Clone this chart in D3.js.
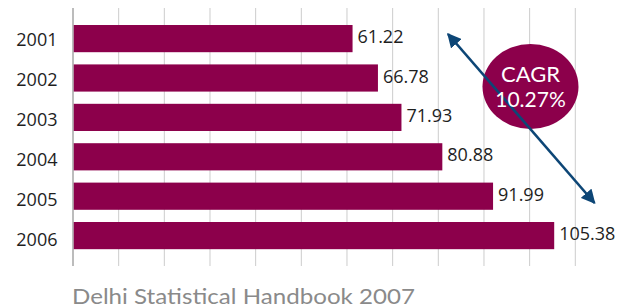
<!DOCTYPE html>
<html>
<head>
<meta charset="utf-8">
<script src="https://cdn.jsdelivr.net/npm/d3@7"></script>
<style>
  html, body { margin: 0; padding: 0; background: #ffffff; }
  svg { display: block; }
</style>
</head>
<body>
<svg id="chart" width="619" height="308"></svg>
<script>
// ---- data ----
const years = ["2001", "2002", "2003", "2004", "2005", "2006"];
const values = [61.22, 66.78, 71.93, 80.88, 91.99, 105.38];
const valueLabels = ["61.22", "66.78", "71.93", "80.88", "91.99", "105.38"];
const gridTicks = [0, 10, 20, 30, 40, 50, 60, 70, 80, 90, 100, 110];
const cagrLines = ["CAGR", "10.27%"];
const sourceText = "Delhi Statistical Handbook 2007";

// ---- layout ----
const svg = d3.select("#chart");
const barColor = "#8c004b";
const arrowColor = "#0d4676";

const x = d3.scaleLinear().domain([0, 110]).range([73, 575.3]);
const y = d3.scaleBand().domain(years).range([12.8, 261.4]).padding(0.31);

// gridlines
svg.append("g").selectAll("line")
  .data(gridTicks.filter(d => d > 0))
  .join("line")
  .attr("x1", d => x(d)).attr("x2", d => x(d))
  .attr("y1", 8).attr("y2", 266)
  .attr("stroke", "#cccccc").attr("stroke-width", 1);

// axis line
svg.append("line")
  .attr("x1", x(0)).attr("x2", x(0))
  .attr("y1", 8).attr("y2", 266)
  .attr("stroke", "#a6a6a6").attr("stroke-width", 1.5);

const data = years.map((yr, i) => ({ yr, v: values[i], lab: valueLabels[i] }));

// bars
svg.append("g").selectAll("rect")
  .data(data)
  .join("rect")
  .attr("x", x(0) + 0.75)
  .attr("y", d => y(d.yr))
  .attr("width", d => x(d.v) - x(0) - 0.75)
  .attr("height", y.bandwidth())
  .attr("fill", barColor);

// category labels
svg.append("g").selectAll("text")
  .data(data)
  .join("text")
  .attr("x", 57.5)
  .attr("y", (d, i) => y(d.yr) + y.bandwidth() / 2 + 7.5 + i * 0.6)
  .attr("text-anchor", "end")
  .attr("font-family", "'Open Sans', sans-serif")
  .attr("font-size", 18)
  .attr("fill", "#1e1e1e")
  .text(d => d.yr);

// value labels
svg.append("g").selectAll("text")
  .data(data)
  .join("text")
  .attr("x", d => x(d.v) + 5)
  .attr("y", d => y(d.yr) + y.bandwidth() / 2 + 4.5)
  .attr("font-family", "'Open Sans', sans-serif")
  .attr("font-size", 18)
  .attr("fill", "#1e1e1e")
  .text(d => d.lab);

// CAGR ellipse
svg.append("ellipse")
  .attr("cx", 530.5).attr("cy", 86.5)
  .attr("rx", 48).attr("ry", 42.5)
  .attr("fill", barColor);

// double-headed arrow
const defs = svg.append("defs");
defs.append("marker")
  .attr("id", "ah")
  .attr("viewBox", "0 0 10 10")
  .attr("refX", 9).attr("refY", 5)
  .attr("markerWidth", 5.5).attr("markerHeight", 5.5)
  .attr("markerUnits", "strokeWidth")
  .attr("orient", "auto-start-reverse")
  .append("path")
  .attr("d", "M0,0 L10,5 L0,10 Z")
  .attr("fill", arrowColor);

svg.append("line")
  .attr("x1", 448).attr("y1", 34)
  .attr("x2", 594.5).attr("y2", 203)
  .attr("stroke", arrowColor)
  .attr("stroke-width", 2.6)
  .attr("marker-start", "url(#ah)")
  .attr("marker-end", "url(#ah)");

// CAGR text
svg.append("g").selectAll("text")
  .data(cagrLines)
  .join("text")
  .attr("x", 530.5)
  .attr("y", (d, i) => 82.3 + i * 25)
  .attr("text-anchor", "middle")
  .attr("font-family", "Lato, sans-serif")
  .attr("font-size", (d, i) => i === 0 ? 22 : 21)
  .attr("fill", "#ffffff")
  .text(d => d);

// source text
svg.append("text")
  .attr("x", 72)
  .attr("y", 303.5)
  .attr("font-family", "Lato, sans-serif")
  .attr("font-size", 22)
  .attr("textLength", 343)
  .attr("lengthAdjust", "spacingAndGlyphs")
  .attr("fill", "#8a8a8a")
  .text(sourceText);
</script>
</body>
</html>
